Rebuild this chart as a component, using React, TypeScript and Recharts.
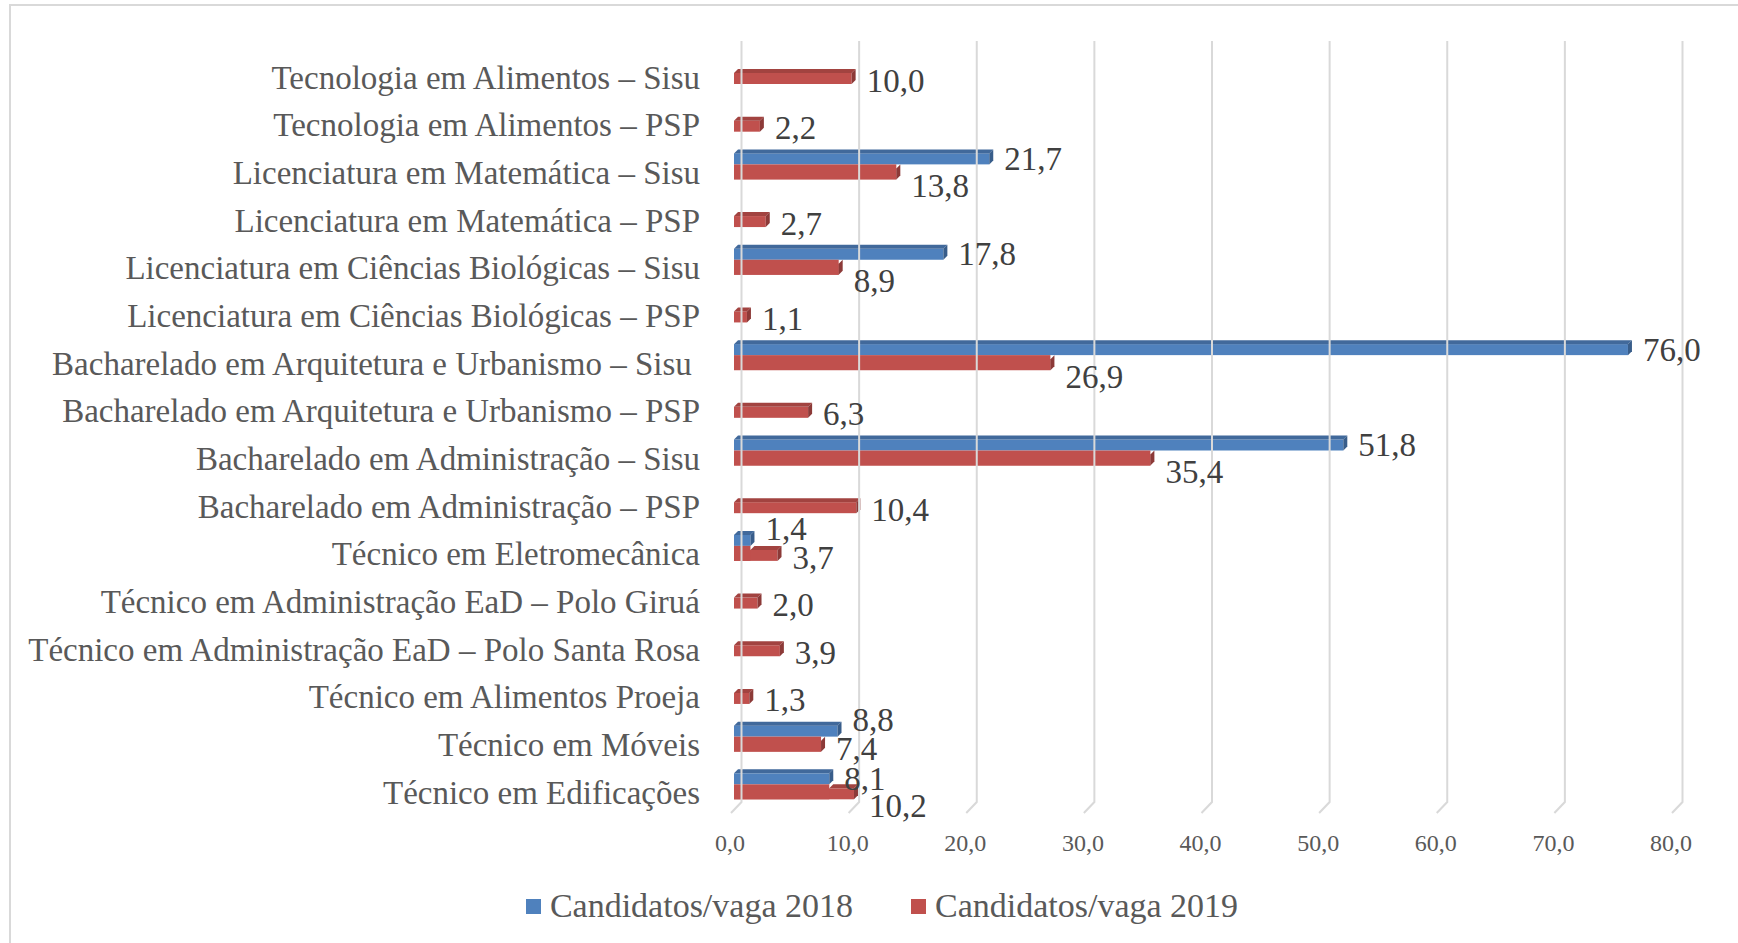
import { BarChart, Bar, XAxis, YAxis, ReferenceLine, Legend, LabelList } from "recharts";

const COURSES = [
  "Tecnologia em Alimentos – Sisu",
  "Tecnologia em Alimentos – PSP",
  "Licenciatura em Matemática – Sisu",
  "Licenciatura em Matemática – PSP",
  "Licenciatura em Ciências Biológicas – Sisu",
  "Licenciatura em Ciências Biológicas – PSP",
  "Bacharelado em Arquitetura e Urbanismo – Sisu\u00A0",
  "Bacharelado em Arquitetura e Urbanismo – PSP",
  "Bacharelado em Administração – Sisu",
  "Bacharelado em Administração – PSP",
  "Técnico em Eletromecânica",
  "Técnico em Administração EaD – Polo Giruá",
  "Técnico em Administração EaD – Polo Santa Rosa",
  "Técnico em Alimentos Proeja",
  "Técnico em Móveis",
  "Técnico em Edificações",
];

const VAGA_2018 = [null, null, 21.7, null, 17.8, null, 76.0, null, 51.8, null, 1.4, null, null, null, 8.8, 8.1];
const VAGA_2019 = [10.0, 2.2, 13.8, 2.7, 8.9, 1.1, 26.9, 6.3, 35.4, 10.4, 3.7, 2.0, 3.9, 1.3, 7.4, 10.2];

const SERIES_2018 = "Candidatos/vaga 2018";
const SERIES_2019 = "Candidatos/vaga 2019";

const X_TICKS = [0, 10, 20, 30, 40, 50, 60, 70, 80];

const FONT = "'Liberation Serif', 'Times New Roman', serif";
const BLUE = { front: "#4F81BD", top: "#41699B", side: "#385D8A" };
const RED = { front: "#C0504D", top: "#A24340", side: "#8C3A38" };
const DEPTH = 4;

const fmt = (v: number) => v.toFixed(1).replace(".", ",");

const data = COURSES.map((name, i) => ({
  name,
  v2018: VAGA_2018[i],
  v2019: VAGA_2019[i],
}));

function Bar3D(props: any) {
  const { x, y, width, height, colors, coverW = 0 } = props;
  if (!width || width <= 0) return <g />;
  const d = DEPTH;
  const w = width;
  const covered = Math.min(coverW, w);
  const x0 = x + covered;
  return (
    <g>
      <rect x={x} y={y + d} width={w} height={height - d} fill={colors.front} />
      {covered > 0 && <rect x={x} y={y} width={covered} height={height} fill={colors.front} />}
      {x0 < x + w && (
        <polygon
          points={`${x0},${y + d} ${x0 + d},${y} ${x + w + d},${y} ${x + w},${y + d}`}
          fill={colors.top}
        />
      )}
      <polygon
        points={`${x + w},${y + d} ${x + w + d},${y} ${x + w + d},${y + height - d} ${x + w},${y + height}`}
        fill={colors.side}
      />
    </g>
  );
}

function GridWall(props: any) {
  const { x1, y1, y2 } = props;
  const top = Math.min(y1, y2);
  const bottom = Math.max(y1, y2);
  return (
    <path
      d={`M${x1 + 7.5},${top - 12} L${x1 + 7.5},${bottom - 14} L${x1 - 3},${bottom - 3}`}
      stroke="#D9D9D9"
      strokeWidth={2}
      fill="none"
    />
  );
}

// labels of a pair of bars are pushed apart so they do not collide
function valueLabel(series: "2018" | "2019") {
  return (p: any) => {
    const { x, y, width, height } = p;
    const i = COURSES.indexOf(p.value);
    const a = VAGA_2018[i];
    const b = VAGA_2019[i];
    const value = series === "2018" ? a : b;
    if (value == null) return null;
    let dy = 4;
    if (a != null && b != null) {
      const short = Math.max(a, b) < 10;
      if (series === "2018") dy = short ? -9 : 2;
      else dy = short ? 5 : 14;
    }
    return (
      <text
        x={x + width + 15}
        y={y + height / 2 + dy}
        dominantBaseline="central"
        style={{ fontFamily: FONT, fontSize: 33, fill: "#404040" }}
      >
        {fmt(value)}
      </text>
    );
  };
}

function LegendContent(props: any) {
  const items = (props.payload || []).filter((e: any) => e.type !== "none");
  return (
    <div
      style={{
        display: "flex",
        justifyContent: "center",
        alignItems: "center",
        gap: 58,
        height: 40,
        fontFamily: FONT,
        fontSize: 34,
        color: "#595959",
      }}
    >
      {items.map((e: any) => (
        <div key={e.value} style={{ display: "flex", alignItems: "center", lineHeight: "40px" }}>
          <span style={{ width: 15, height: 15, background: e.color, marginRight: 9, display: "inline-block" }} />
          <span>{e.value}</span>
        </div>
      ))}
    </div>
  );
}

export default function App() {
  return (
    <div
      style={{
        position: "absolute",
        left: 0,
        top: 0,
        width: 1738,
        height: 943,
        background: "#fff",
        overflow: "hidden",
      }}
    >
      <div
        style={{
          position: "absolute",
          left: 9,
          top: 4,
          width: 1760,
          height: 960,
          border: "2px solid #D9D9D9",
        }}
      />
      <div style={{ position: "absolute", left: 0, top: 0 }}>
        <BarChart
          width={1738}
          height={943}
          data={data}
          layout="vertical"
          margin={{ top: 53, right: 63, left: 10, bottom: 37 }}
          barSize={15}
          barGap={0}
        >
          <XAxis
            type="number"
            domain={[0, 80]}
            ticks={X_TICKS}
            tickFormatter={fmt}
            axisLine={false}
            tickLine={false}
            tickSize={0}
            tickMargin={18}
            height={50}
            tick={{ fontFamily: FONT, fontSize: 24, fill: "#595959", dx: -4 }}
          />
          <YAxis
            type="category"
            dataKey="name"
            width={724}
            axisLine={false}
            tickLine={false}
            tickSize={0}
            tickMargin={34}
            interval={0}
            tick={{ fontFamily: FONT, fontSize: 33, fill: "#595959" }}
          />
          {X_TICKS.map((t) => (
            <ReferenceLine key={t} x={t} shape={GridWall} ifOverflow="visible" />
          ))}
          <Bar
            dataKey="v2018"
            name={SERIES_2018}
            fill={BLUE.front}
            isAnimationActive={false}
            shape={(p: any) => <Bar3D {...p} colors={BLUE} />}
          >
            <LabelList dataKey="name" content={valueLabel("2018")} />
          </Bar>
          <Bar
            dataKey="v2019"
            name={SERIES_2019}
            fill={RED.front}
            isAnimationActive={false}
            shape={(p: any) => {
              const blue = p.payload?.v2018;
              const red = p.payload?.v2019;
              const coverW = blue != null && red ? (blue * p.width) / red : 0;
              return <Bar3D {...p} colors={RED} coverW={coverW} />;
            }}
          >
            <LabelList dataKey="name" content={valueLabel("2019")} />
          </Bar>
          <Bar dataKey="spacer" legendType="none" isAnimationActive={false} fill="none" />
          <Legend
            verticalAlign="bottom"
            content={LegendContent}
            wrapperStyle={{ left: 20, width: 1724, top: 886, bottom: "auto" }}
          />
        </BarChart>
      </div>
    </div>
  );
}
